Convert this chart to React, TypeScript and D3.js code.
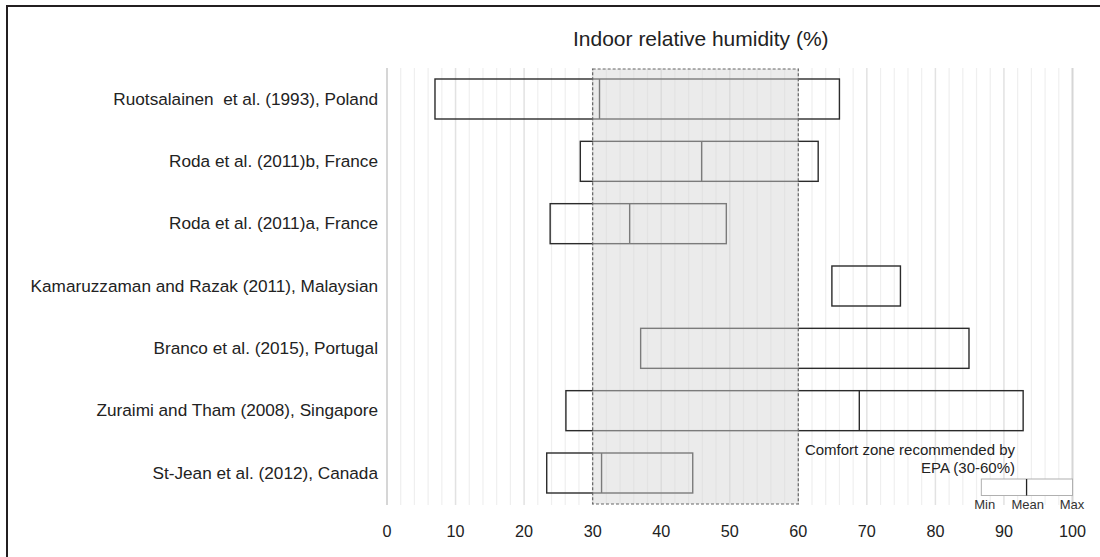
import React from "react";
import * as d3 from "d3";

const categories = [
  "Ruotsalainen  et al. (1993), Poland",
  "Roda et al. (2011)b, France",
  "Roda et al. (2011)a, France",
  "Kamaruzzaman and Razak (2011), Malaysian",
  "Branco et al. (2015), Portugal",
  "Zuraimi and Tham (2008), Singapore",
  "St-Jean et al. (2012), Canada",
];
const minValues = [7, 28.2, 23.8, 64.9, 37, 26.1, 23.3];
const meanValues: (number | null)[] = [31, 45.9, 35.4, null, null, 68.9, 31.3];
const maxValues = [66, 62.9, 49.5, 74.9, 84.9, 92.8, 44.6];
const xTicks = [0, 10, 20, 30, 40, 50, 60, 70, 80, 90, 100];
const comfortZone = [30, 60];
const legendBox = [86.7, 93.3, 100];
const legendLabels = ["Min", "Mean", "Max"];
const titleText = "Indoor relative humidity (%)";
const legendTitle = ["Comfort zone recommended by", "EPA (30-60%)"];

const W = 1100;
const H = 557;
const FONT = "'Liberation Sans', Arial, Helvetica, sans-serif";

export default function App() {
  const x = d3.scaleLinear().domain([0, 100]).range([387, 1072.5]);
  const y = d3.scalePoint<string>().domain(categories).range([99, 473]);
  const boxH = 40;
  const gridTop = 68;
  const gridBottom = 505;
  const minor = d3.range(0, 101, 2);
  const legendLabelX = [984.7, 1027.8, 1072];

  return (
    <svg
      width={W}
      height={H}
      style={{ position: "absolute", left: 0, top: 0, background: "#fff" }}
      fontFamily={FONT}
    >
      <rect x={0} y={0} width={W} height={H} fill="#fff" />
      {/* frame */}
      <line x1={7} y1={5} x2={7} y2={H} stroke="#231f20" strokeWidth={2} />
      <line x1={6} y1={6} x2={W} y2={6} stroke="#231f20" strokeWidth={2} />

      {/* gridlines */}
      {minor.map((v) => {
        const major = v % 10 === 0;
        const edge = v === 0 || v === 100;
        return (
          <line
            key={"g" + v}
            x1={x(v)}
            x2={x(v)}
            y1={gridTop}
            y2={gridBottom}
            stroke={edge ? "#d6d6d6" : major ? "#e2e2e2" : "#efefef"}
            strokeWidth={edge ? 2 : major ? 1.5 : 1.2}
          />
        );
      })}

      {/* bars */}
      {categories.map((c, i) => {
        const cy = y(c)!;
        const mv = meanValues[i];
        return (
          <g key={"b" + i}>
            <rect
              x={x(minValues[i])}
              y={cy - boxH / 2}
              width={x(maxValues[i]) - x(minValues[i])}
              height={boxH}
              fill="none"
              stroke="#2b2b2b"
              strokeWidth={1.4}
            />
            {mv !== null && (
              <line
                x1={x(mv)}
                x2={x(mv)}
                y1={cy - boxH / 2}
                y2={cy + boxH / 2}
                stroke="#2b2b2b"
                strokeWidth={1.4}
              />
            )}
          </g>
        );
      })}

      {/* comfort zone */}
      <rect
        x={x(comfortZone[0])}
        y={69}
        width={x(comfortZone[1]) - x(comfortZone[0])}
        height={504 - 69}
        fill="rgb(213,213,213)"
        fillOpacity={0.475}
        stroke="#666"
        strokeWidth={1.2}
        strokeDasharray="3,2"
      />

      {/* category labels */}
      {categories.map((c) => (
        <text
          key={"l" + c}
          x={378}
          y={y(c)! + 5.5}
          textAnchor="end"
          fontSize={17.2}
          fill="#222"
          style={{ whiteSpace: "pre" }}
        >
          {c}
        </text>
      ))}

      {/* title */}
      <text x={573} y={45.5} textAnchor="start" fontSize={21} fill="#222">
        {titleText}
      </text>

      {/* x tick labels */}
      {xTicks.map((t) => (
        <text key={"t" + t} x={x(t)} y={537} textAnchor="middle" fontSize={16.2} fill="#222">
          {t}
        </text>
      ))}

      {/* legend */}
      <text x={1015} y={455} textAnchor="end" fontSize={15} fill="#222">
        {legendTitle[0]}
      </text>
      <text x={1015} y={473} textAnchor="end" fontSize={15} fill="#222">
        {legendTitle[1]}
      </text>
      <rect
        x={x(legendBox[0])}
        y={479}
        width={x(legendBox[2]) - x(legendBox[0])}
        height={16.5}
        fill="#fff"
        stroke="#b0b0b0"
        strokeWidth={1}
      />
      <line
        x1={x(legendBox[1])}
        x2={x(legendBox[1])}
        y1={479}
        y2={495.5}
        stroke="#222"
        strokeWidth={1.3}
      />
      {legendLabels.map((lab, i) => (
        <text
          key={"ll" + i}
          x={legendLabelX[i]}
          y={509}
          textAnchor="middle"
          fontSize={13}
          fill="#333"
        >
          {lab}
        </text>
      ))}
    </svg>
  );
}
